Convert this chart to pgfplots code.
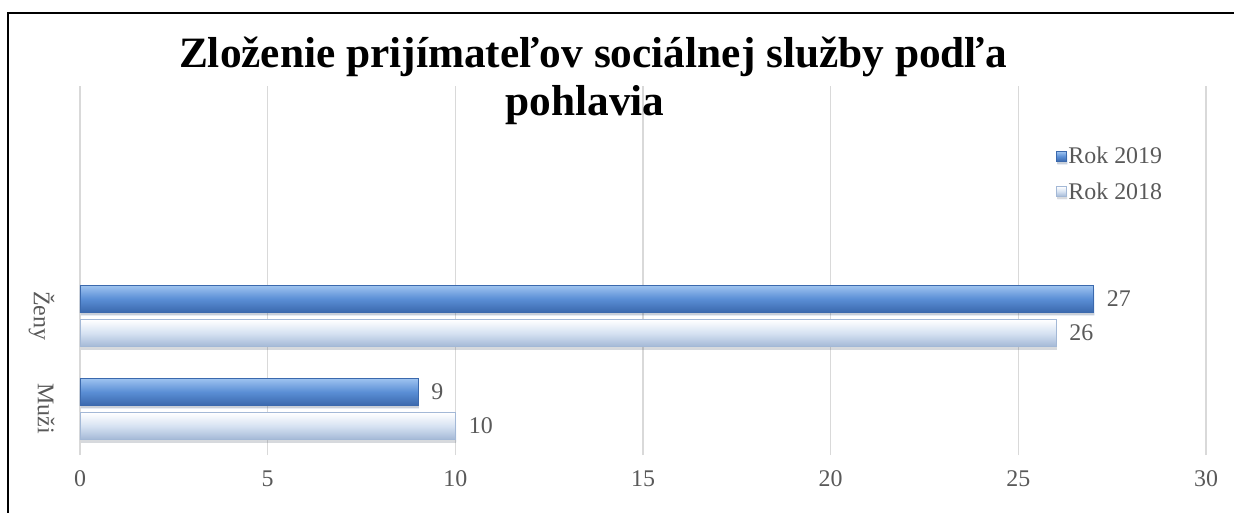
\documentclass[border=0pt]{standalone}
\usepackage{fontspec}
\setmainfont{Liberation Serif}
\usepackage{pgfplots}
\pgfplotsset{compat=1.18}
\definecolor{txt}{HTML}{595959}
\definecolor{gridc}{HTML}{D9D9D9}
\definecolor{aTop}{HTML}{9FC4F0}
\definecolor{aMid}{HTML}{5B8FD6}
\definecolor{aBot}{HTML}{3B69AD}
\definecolor{bTop}{HTML}{FFFFFF}
\definecolor{bMid}{HTML}{D6E2F2}
\definecolor{bBot}{HTML}{A3B8D6}
\begin{document}
\begin{tikzpicture}
\path[use as bounding box] (-80bp,-58bp) rectangle (1154bp,455bp);
\begin{axis}[
  at={(0bp,0bp)}, anchor=south west,
  scale only axis, width=1126bp, height=369bp,
  xbar,
  xmin=0, xmax=30, ymin=-0.495, ymax=3.47,
  xtick={0,5,...,30}, ytick={0,1}, yticklabels={Muži, Ženy},
  major tick length=0pt,
  axis line style={draw=none},
  xmajorgrids, grid style={gridc, line width=1.5bp},
  tick label style={font=\fontsize{24}{28}\selectfont, text=txt},
  /pgf/number format/assume math mode=true,
  xticklabel shift=12bp,
  yticklabel style={rotate=-90, anchor=north},
  yticklabel shift=22bp,
  bar width=0.29,
  nodes near coords,
  nodes near coords style={font=\fontsize{24}{28}\selectfont, text=txt, xshift=10bp},
  legend style={draw=none, fill=none, at={(0.864,0.845)}, anchor=north west,
    font=\fontsize{24}{28}\selectfont, text=txt, row sep=13bp,
    /tikz/every even column/.append style={column sep=0pt}},
  legend cell align=left,
  legend image code/.code={\path[#1] (0bp,-5bp) rectangle (10bp,5bp);},
  every axis plot/.append style={preaction={fill=black, fill opacity=0.13, draw=none, transform canvas={xshift=1bp, yshift=-3bp}}},
]
\addplot[bar shift=0.185, draw=aBot, line width=0.4bp, top color=aTop, bottom color=aBot, middle color=aMid] coordinates {(27,1)};
\addlegendentry{Rok 2019}
\addplot[bar shift=-0.185, draw=bBot, line width=0.4bp, top color=bTop, bottom color=bBot, middle color=bMid] coordinates {(26,1)};
\addlegendentry{Rok 2018}
\addplot[forget plot, bar shift=0.185, draw=aBot, line width=0.4bp, top color=aTop, bottom color=aBot, middle color=aMid] coordinates {(9,0)};
\addplot[forget plot, bar shift=-0.185, draw=bBot, line width=0.4bp, top color=bTop, bottom color=bBot, middle color=bMid] coordinates {(10,0)};
\end{axis}
\draw[line width=2bp] (-71.5bp,-60bp) -- (-71.5bp,441.5bp) -- (1160bp,441.5bp);
\node[anchor=base, inner sep=0pt, font=\bfseries\fontsize{43.5}{50}\selectfont] at (513bp,387.3bp) {Zloženie prijímateľov sociálnej služby podľa};
\node[anchor=base, inner sep=0pt, font=\bfseries\fontsize{43.5}{50}\selectfont] at (505bp,339bp) {pohlavia};
\end{tikzpicture}
\end{document}
